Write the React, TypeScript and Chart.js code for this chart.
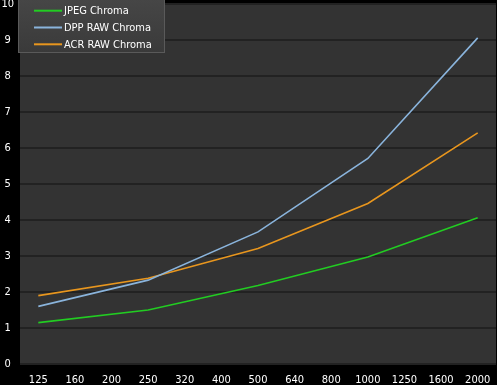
import React, { useEffect, useRef } from "react";
import { Chart, registerables } from "chart.js";

Chart.register(...registerables);

const isoLabels = ["125", "160", "200", "250", "320", "400", "500", "640", "800", "1000", "1250", "1600", "2000"];
const jpegChroma = [1.15, null, null, 1.5, null, null, 2.18, null, null, 2.97, null, null, 4.06];
const dppRawChroma = [1.6, null, null, 2.33, null, null, 3.67, null, null, 5.71, null, null, 9.06];
const acrRawChroma = [1.9, null, null, 2.38, null, null, 3.21, null, null, 4.46, null, null, 6.42];
const seriesNames = ["JPEG Chroma", "DPP RAW Chroma", "ACR RAW Chroma"];
const seriesColors = ["#22cc22", "#8ab4dc", "#e8961e"];

const FONT = "'Liberation Sans Narrow', 'DejaVu Sans Condensed', 'Liberation Sans', sans-serif";

const bgPlugin = {
  id: "bgPlugin",
  beforeDraw(chart: any) {
    const { ctx, chartArea } = chart;
    ctx.save();
    ctx.fillStyle = "#000000";
    ctx.fillRect(0, 0, chart.width, chart.height);
    ctx.fillStyle = "#333333";
    ctx.fillRect(chartArea.left, chartArea.top, chartArea.right - chartArea.left, chartArea.bottom - chartArea.top);
    ctx.restore();
  },
};

const legendPlugin = {
  id: "boxLegend",
  afterDraw(chart: any) {
    const { ctx } = chart;
    ctx.save();
    const x0 = 18.5, y0 = -0.5, w = 146, h = 53;
    const g = ctx.createLinearGradient(0, y0, 0, y0 + h);
    g.addColorStop(0, "#464646");
    g.addColorStop(1, "#3a3a3a");
    ctx.fillStyle = g;
    ctx.fillRect(x0, y0, w, h);
    ctx.strokeStyle = "#5a5a5a";
    ctx.lineWidth = 1;
    ctx.strokeRect(x0, y0, w, h);
    ctx.font = `11px ${FONT}`;
    ctx.textBaseline = "middle";
    ctx.textAlign = "left";
    const rows = [10.7, 27.5, 44.3];
    chart.data.datasets.forEach((ds: any, i: number) => {
      const y = rows[i];
      ctx.strokeStyle = ds.borderColor;
      ctx.lineWidth = 2;
      ctx.beginPath();
      ctx.moveTo(34, y);
      ctx.lineTo(62, y);
      ctx.stroke();
      ctx.fillStyle = "#ffffff";
      ctx.fillText(ds.label, 64, y + 0.5);
    });
    ctx.restore();
  },
};

export default function App() {
  const ref = useRef<HTMLCanvasElement>(null);
  useEffect(() => {
    document.body.style.margin = "0";
    document.body.style.background = "#000";
    const datasets = [jpegChroma, dppRawChroma, acrRawChroma].map((d, i) => ({
      label: seriesNames[i],
      data: d,
      borderColor: seriesColors[i],
      backgroundColor: seriesColors[i],
      borderWidth: 1.6,
      pointRadius: 0,
      tension: 0,
      spanGaps: true,
      fill: false,
    }));
    const chart = new Chart(ref.current!, {
      type: "line",
      data: { labels: isoLabels, datasets },
      plugins: [bgPlugin, legendPlugin],
      options: {
        animation: false,
        responsive: false,
        devicePixelRatio: 1,
        layout: { padding: { top: 4, right: 1, left: 0, bottom: 0 } },
        plugins: { legend: { display: false }, tooltip: { enabled: false } },
        scales: {
          x: {
            offset: true,
            grid: { display: false },
            border: { display: false },
            ticks: { color: "#ffffff", font: { family: FONT, size: 11 }, padding: 2, maxRotation: 0, autoSkip: false },
            afterFit: (s: any) => { s.height = 21; s.paddingLeft = 0; s.paddingRight = 0; },
          },
          y: {
            min: 0,
            max: 10,
            grid: { color: "#222222", lineWidth: 2, drawTicks: false },
            border: { display: false },
            ticks: { stepSize: 1, color: "#ffffff", font: { family: FONT, size: 11 }, padding: 6, crossAlign: "center" },
            afterFit: (s: any) => { s.width = 20; s.paddingTop = 0; s.paddingBottom = 0; },
          },
        },
      } as any,
    });
    return () => chart.destroy();
  }, []);
  return (
    <div style={{ width: 497, height: 385 }}>
      <canvas ref={ref} width={497} height={385} style={{ display: "block" }} />
    </div>
  );
}
